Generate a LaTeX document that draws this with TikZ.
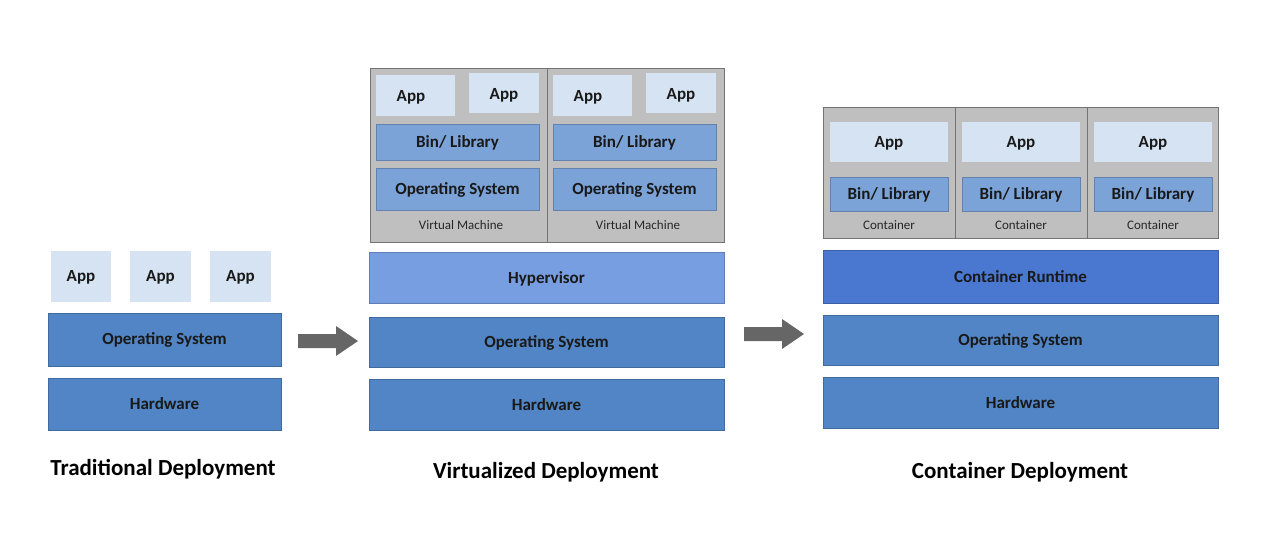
\documentclass[tikz,border=0pt]{standalone}
\usepackage{fontspec}
\setmainfont{Carlito}
\usetikzlibrary{shapes.arrows}
\definecolor{dk}{HTML}{5185C5}
\definecolor{md}{HTML}{7BA3D8}
\definecolor{lt}{HTML}{D6E3F2}
\definecolor{gr}{HTML}{BFBFBF}
\definecolor{hv}{HTML}{789EE2}
\definecolor{cr}{HTML}{4A78D0}
\begin{document}
\begin{tikzpicture}[x=1pt,y=-1pt,
 blk/.style={fill=#1,draw=#1!80!black,line width=0.6pt},
 lbl/.style={font=\bfseries\fontsize{17}{17}\selectfont,text=black!90},
 sm/.style={font=\fontsize{13}{13}\selectfont,text=black!85},
 ttl/.style={font=\bfseries\fontsize{23}{23}\selectfont},
 arr/.style={fill=black!60,draw=none}]
\useasboundingbox (0,0) rectangle (1280,533);
% Traditional
\foreach \n/\a/\b in {ta1/51/111,ta2/130/191,ta3/210/271}{
 \fill[lt] (\a,251) rectangle (\b,302);
 \node[lbl] (\n) at ({(\a+\b)/2},277) {App};}
\draw[blk=dk] (48,313) rectangle (281,366); \node[lbl] (tos) at (164.5,340) {Operating System};
\draw[blk=dk] (48,378) rectangle (281,430); \node[lbl] (thw) at (164.5,404) {Hardware};
\node[ttl] (tt) at (163,469) {Traditional Deployment};
% arrows
\fill[arr] (298,334) -- (336,334) -- (336,326) -- (358,341) -- (336,356) -- (336,348) -- (298,348) -- cycle;
\fill[arr] (744,327) -- (782,327) -- (782,319) -- (804,334) -- (782,349) -- (782,341) -- (744,341) -- cycle;
% Virtualized
\draw[fill=gr,draw=black!55] (370,68) rectangle (724,242);
\draw[black!55] (547,68) -- (547,242);
\foreach \x/\y in {0/0,177/0}{
 \begin{scope}[xshift=\x]
 \fill[lt] (376,75) rectangle (455,116); \node[lbl] at (411,97) {App};
 \fill[lt] (469,73) rectangle (539,113); \node[lbl] at (504,95) {App};
 \draw[blk=md] (376,124) rectangle (539,160); \node[lbl] at (457.5,143) {Bin/ Library};
 \draw[blk=md] (376,168) rectangle (539,210); \node[lbl] at (457.5,190) {Operating System};
 \node[sm] at (461,225) {Virtual Machine};
 \end{scope}}
\draw[blk=hv] (369,252) rectangle (724,303); \node[lbl] (hyp) at (546.5,279) {Hypervisor};
\draw[blk=dk] (369,317) rectangle (724,367); \node[lbl] (vos) at (546.5,343) {Operating System};
\draw[blk=dk] (369,379) rectangle (724,430); \node[lbl] (vhw) at (546.5,405) {Hardware};
\node[ttl] (vt) at (546,472) {Virtualized Deployment};
% Container
\draw[fill=gr,draw=black!55] (823,107) rectangle (1218,238);
\draw[black!55] (955,107) -- (955,238) (1087,107) -- (1087,238);
\foreach \x in {0,132,264}{
 \begin{scope}[xshift=\x]
 \fill[lt] (830,122) rectangle (948,162); \node[lbl] at (889,143) {App};
 \draw[blk=md] (830,177) rectangle (948,211); \node[lbl] at (889,195) {Bin/ Library};
 \node[sm] at (889,225) {Container};
 \end{scope}}
\draw[blk=cr] (823,250) rectangle (1218,303); \node[lbl] (crt) at (1020.5,277) {Container Runtime};
\draw[blk=dk] (823,315) rectangle (1218,365); \node[lbl] (cos) at (1020.5,341) {Operating System};
\draw[blk=dk] (823,377) rectangle (1218,428); \node[lbl] (chw) at (1020.5,403) {Hardware};
\node[ttl] (ct) at (1020,472) {Container Deployment};
\end{tikzpicture}
\end{document}
